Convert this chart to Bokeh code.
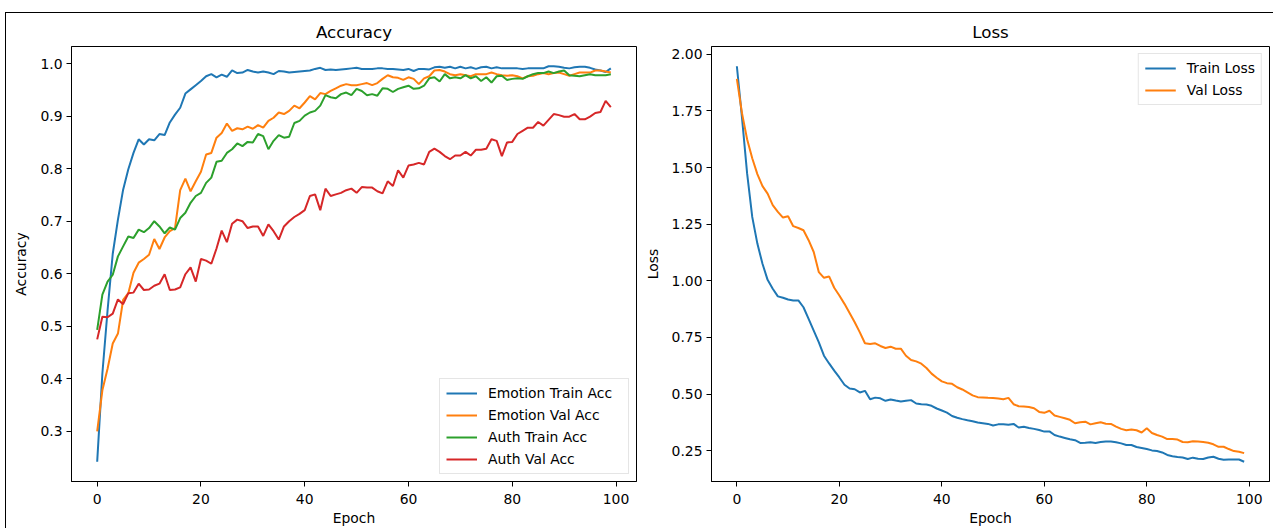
from bokeh.plotting import figure
from bokeh.layouts import row
from bokeh.models import FixedTicker, NumeralTickFormatter, Range1d, Legend, LegendItem
from bokeh.embed import file_html
from bokeh.resources import INLINE

epochs = list(range(100))

emotion_train_acc = [
    0.242, 0.410, 0.530, 0.638, 0.703, 0.760, 0.799, 0.830, 0.856, 0.846,
    0.856, 0.854, 0.866, 0.864, 0.888, 0.903, 0.916, 0.943, 0.951, 0.959,
    0.967, 0.976, 0.980, 0.974, 0.979, 0.975, 0.987, 0.982, 0.983, 0.988,
    0.985, 0.983, 0.985, 0.983, 0.980, 0.986, 0.985, 0.983, 0.984, 0.985,
    0.986, 0.987, 0.990, 0.992, 0.988, 0.989, 0.988, 0.989, 0.990, 0.991,
    0.992, 0.990, 0.990, 0.990, 0.991, 0.991, 0.990, 0.990, 0.989, 0.988,
    0.990, 0.986, 0.990, 0.990, 0.989, 0.993, 0.994, 0.992, 0.994, 0.991,
    0.994, 0.991, 0.993, 0.990, 0.993, 0.994, 0.991, 0.993, 0.991, 0.991,
    0.991, 0.991, 0.990, 0.991, 0.991, 0.991, 0.991, 0.995, 0.995, 0.994,
    0.992, 0.991, 0.993, 0.994, 0.994, 0.992, 0.989, 0.987, 0.984, 0.991,
]
emotion_val_acc = [
    0.300, 0.378, 0.419, 0.467, 0.486, 0.550, 0.563, 0.602, 0.621, 0.628,
    0.636, 0.666, 0.647, 0.669, 0.681, 0.687, 0.759, 0.781, 0.757, 0.776,
    0.794, 0.827, 0.830, 0.859, 0.868, 0.886, 0.872, 0.877, 0.875, 0.880,
    0.876, 0.883, 0.878, 0.891, 0.897, 0.907, 0.904, 0.910, 0.920, 0.915,
    0.926, 0.938, 0.932, 0.944, 0.942, 0.948, 0.953, 0.958, 0.961, 0.959,
    0.959, 0.961, 0.963, 0.959, 0.963, 0.971, 0.978, 0.974, 0.973, 0.969,
    0.974, 0.971, 0.961, 0.972, 0.976, 0.987, 0.988, 0.985, 0.980, 0.978,
    0.980, 0.978, 0.976, 0.980, 0.980, 0.980, 0.983, 0.980, 0.978, 0.977,
    0.978, 0.976, 0.972, 0.976, 0.977, 0.980, 0.982, 0.980, 0.982, 0.983,
    0.980, 0.977, 0.980, 0.983, 0.983, 0.983, 0.987, 0.987, 0.985, 0.983,
]
auth_train_acc = [
    0.493, 0.560, 0.585, 0.598, 0.633, 0.652, 0.671, 0.668, 0.684, 0.679,
    0.687, 0.700, 0.690, 0.677, 0.688, 0.684, 0.706, 0.716, 0.735, 0.748,
    0.754, 0.773, 0.783, 0.813, 0.815, 0.830, 0.837, 0.848, 0.843, 0.851,
    0.850, 0.866, 0.862, 0.837, 0.853, 0.864, 0.859, 0.861, 0.887, 0.891,
    0.901, 0.907, 0.910, 0.920, 0.940, 0.936, 0.934, 0.942, 0.945, 0.940,
    0.952, 0.948, 0.940, 0.942, 0.939, 0.953, 0.952, 0.946, 0.952, 0.955,
    0.958, 0.952, 0.953, 0.958, 0.972, 0.974, 0.966, 0.980, 0.972, 0.974,
    0.972, 0.978, 0.972, 0.976, 0.967, 0.974, 0.964, 0.976, 0.977, 0.969,
    0.971, 0.972, 0.971, 0.976, 0.980, 0.982, 0.982, 0.985, 0.982, 0.985,
    0.987, 0.978, 0.977, 0.976, 0.978, 0.980, 0.978, 0.978, 0.978, 0.980,
]
auth_val_acc = [
    0.475, 0.518, 0.517, 0.524, 0.551, 0.542, 0.563, 0.564, 0.581, 0.569,
    0.570, 0.577, 0.581, 0.599, 0.569, 0.570, 0.574, 0.599, 0.612, 0.585,
    0.628, 0.625, 0.619, 0.648, 0.682, 0.660, 0.695, 0.703, 0.700, 0.687,
    0.690, 0.690, 0.672, 0.694, 0.681, 0.665, 0.690, 0.700, 0.708, 0.714,
    0.721, 0.748, 0.751, 0.721, 0.762, 0.748, 0.751, 0.754, 0.759, 0.762,
    0.754, 0.765, 0.764, 0.764, 0.757, 0.753, 0.776, 0.767, 0.797, 0.783,
    0.806, 0.808, 0.811, 0.808, 0.832, 0.838, 0.832, 0.824, 0.818, 0.825,
    0.825, 0.832, 0.825, 0.836, 0.836, 0.838, 0.856, 0.853, 0.824, 0.850,
    0.851, 0.866, 0.872, 0.878, 0.878, 0.889, 0.882, 0.893, 0.904, 0.902,
    0.899, 0.899, 0.904, 0.894, 0.894, 0.899, 0.906, 0.908, 0.929, 0.917,
]
train_loss = [
    1.947, 1.720, 1.474, 1.282, 1.164, 1.075, 1.004, 0.965, 0.931, 0.925,
    0.917, 0.913, 0.913, 0.883, 0.832, 0.780, 0.728, 0.669, 0.635, 0.603,
    0.573, 0.541, 0.524, 0.521, 0.507, 0.514, 0.477, 0.484, 0.481, 0.470,
    0.476, 0.471, 0.467, 0.470, 0.473, 0.458, 0.455, 0.454, 0.448, 0.436,
    0.427, 0.418, 0.403, 0.395, 0.389, 0.384, 0.380, 0.374, 0.371, 0.368,
    0.361, 0.366, 0.366, 0.364, 0.368, 0.352, 0.355, 0.350, 0.346, 0.341,
    0.334, 0.335, 0.319, 0.312, 0.306, 0.300, 0.296, 0.284, 0.285, 0.287,
    0.284, 0.288, 0.290, 0.290, 0.287, 0.282, 0.275, 0.275, 0.266, 0.262,
    0.257, 0.251, 0.248, 0.242, 0.231, 0.225, 0.222, 0.220, 0.213, 0.219,
    0.214, 0.213, 0.220, 0.223, 0.214, 0.210, 0.211, 0.211, 0.211, 0.201,
]
val_loss = [
    1.891, 1.740, 1.625, 1.541, 1.471, 1.418, 1.385, 1.334, 1.304, 1.279,
    1.285, 1.241, 1.233, 1.223, 1.179, 1.127, 1.038, 1.013, 1.019, 0.969,
    0.935, 0.898, 0.858, 0.817, 0.772, 0.724, 0.721, 0.724, 0.712, 0.703,
    0.709, 0.700, 0.700, 0.669, 0.650, 0.644, 0.634, 0.615, 0.590, 0.572,
    0.556, 0.548, 0.545, 0.530, 0.520, 0.507, 0.494, 0.486, 0.485, 0.483,
    0.482, 0.480, 0.477, 0.483, 0.455, 0.446, 0.445, 0.443, 0.437, 0.421,
    0.417, 0.426, 0.405, 0.399, 0.393, 0.386, 0.371, 0.375, 0.378, 0.366,
    0.371, 0.375, 0.369, 0.368, 0.356, 0.346, 0.340, 0.343, 0.340, 0.330,
    0.349, 0.328, 0.319, 0.312, 0.301, 0.301, 0.299, 0.288, 0.287, 0.291,
    0.290, 0.288, 0.285, 0.278, 0.267, 0.267, 0.257, 0.248, 0.245, 0.239,
]

x_ticks = [0, 20, 40, 60, 80, 100]
acc_ticks = [0.3, 0.4, 0.5, 0.6, 0.7, 0.8, 0.9, 1.0]
loss_ticks = [0.25, 0.5, 0.75, 1.0, 1.25, 1.5, 1.75, 2.0]

acc_series = [
    ("Emotion Train Acc", emotion_train_acc, "#1f77b4"),
    ("Emotion Val Acc", emotion_val_acc, "#ff7f0e"),
    ("Auth Train Acc", auth_train_acc, "#2ca02c"),
    ("Auth Val Acc", auth_val_acc, "#d62728"),
]
loss_series = [
    ("Train Loss", train_loss, "#1f77b4"),
    ("Val Loss", val_loss, "#ff7f0e"),
]

FONT = "DejaVu Sans"
FS = "13.9px"


def auto_range(values):
    lo, hi = min(values), max(values)
    pad = (hi - lo) * 0.05
    return Range1d(lo - pad, hi + pad)


def make_fig(title, ylabel, series, yticks, yfmt, frame_w, mb_left, mb_right,
             legend_loc, label_w):
    xr = auto_range(epochs)
    yr = auto_range([v for _, vals, _ in series for v in vals])
    p = figure(
        frame_width=frame_w, frame_height=435,
        min_border_left=mb_left, min_border_right=mb_right,
        min_border_top=33, min_border_bottom=46,
        x_range=xr, y_range=yr,
        output_backend="svg", toolbar_location=None,
        title=title,
    )
    p.title.align = "center"
    p.title.text_font = FONT
    p.title.text_font_size = "16.7px"
    p.title.text_font_style = "normal"
    p.title.text_color = "black"
    p.title.standoff = 10

    p.xgrid.visible = False
    p.ygrid.visible = False
    p.outline_line_color = "black"
    p.outline_line_width = 1
    p.outline_line_alpha = 1
    p.background_fill_color = "white"
    p.border_fill_color = "white"

    for ax in (p.xaxis[0], p.yaxis[0]):
        ax.axis_line_color = "black"
        ax.axis_line_width = 1
        ax.major_tick_line_color = "black"
        ax.major_tick_line_width = 1
        ax.major_tick_out = 5
        ax.major_tick_in = 0
        ax.minor_tick_line_color = None
        ax.major_label_text_font = FONT
        ax.major_label_text_font_size = FS
        ax.major_label_text_color = "black"
        ax.major_label_standoff = 4
        ax.axis_label_text_font = FONT
        ax.axis_label_text_font_size = FS
        ax.axis_label_text_font_style = "normal"
        ax.axis_label_text_color = "black"

    p.xaxis[0].ticker = FixedTicker(ticks=x_ticks)
    p.xaxis[0].axis_label = "Epoch"
    p.xaxis[0].major_label_standoff = 7
    p.xaxis[0].axis_label_standoff = 3
    p.yaxis[0].ticker = FixedTicker(ticks=yticks)
    p.yaxis[0].formatter = NumeralTickFormatter(format=yfmt)
    p.yaxis[0].axis_label = ylabel
    p.yaxis[0].axis_label_standoff = 8

    items = []
    for name, vals, color in series:
        r = p.line(epochs, vals, line_color=color, line_width=2)
        items.append(LegendItem(label=name, renderers=[r]))

    legend = Legend(items=items, location=legend_loc)
    legend.label_text_font = FONT
    legend.label_text_font_size = FS
    legend.label_text_color = "black"
    legend.glyph_width = 31
    legend.glyph_height = 16
    legend.label_height = 16
    legend.label_width = label_w
    legend.label_standoff = 11
    legend.spacing = 6
    legend.padding = 6
    legend.margin = 7
    legend.border_line_color = "#cccccc"
    legend.border_line_width = 1
    legend.background_fill_color = "white"
    legend.background_fill_alpha = 0.8
    p.add_layout(legend)
    return p


p1 = make_fig("Accuracy", "Accuracy", acc_series, acc_ticks, "0.0", 565, 65, 5,
              "bottom_right", 134)
p2 = make_fig("Loss", "Loss", loss_series, loss_ticks, "0.00", 558, 66, 4,
              "top_right", 20)

layout = row(
    p1, p2,
    margin=(12, 0, 0, 5),
    styles={"border-top": "1px solid black", "border-left": "1px solid black"},
)

open("out.html", "w").write(file_html(layout, INLINE))
